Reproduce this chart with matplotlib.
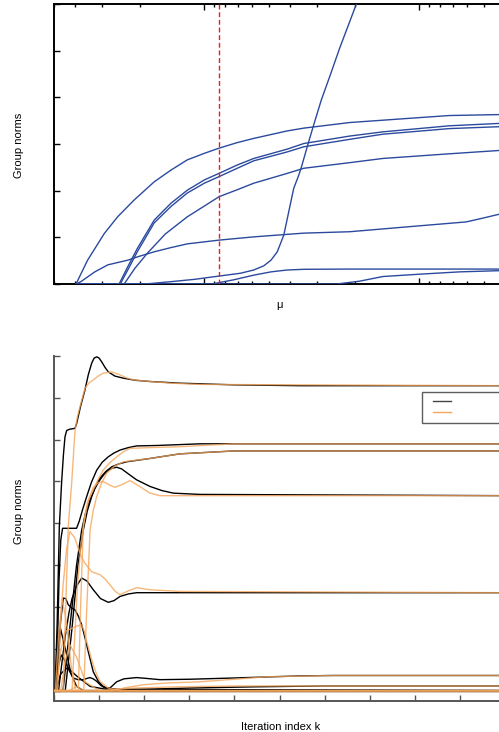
import matplotlib
matplotlib.use('Agg')
import matplotlib.pyplot as plt
from matplotlib.lines import Line2D
from matplotlib.ticker import LogLocator, NullFormatter, MultipleLocator
from matplotlib import rcParams

rcParams['font.family'] = ['Liberation Sans', 'DejaVu Sans']

# ---------------- top panel: regularisation path (group norms vs mu) -------------
mu_lambda = 8.55  # selected value (dashed red line)

path_a_mu = [39.5, 34.9, 29.2, 25.3, 21.2, 17.1, 14.3, 12.0, 10.0, 8.55, 7.03, 5.89, 4.12, 3.45, 2.11, 1.48, 1.04, 0.726, 0.43, 0.38]
path_a_v = [0, 0.51, 1.08, 1.44, 1.80, 2.19, 2.44, 2.66, 2.80, 2.91, 3.03, 3.12, 3.28, 3.34, 3.46, 3.51, 3.56, 3.61, 3.63, 3.64]
path_b_mu = [39.5, 24.9, 22.7, 20.5, 17.1, 14.3, 12.0, 10.0, 8.55, 7.03, 5.89, 4.12, 3.45, 2.11, 1.48, 0.726, 0.43, 0.38]
path_b_v = [0, 0, 0.37, 0.76, 1.37, 1.73, 2.01, 2.23, 2.37, 2.55, 2.69, 2.89, 3.01, 3.17, 3.26, 3.39, 3.44, 3.45]
path_c_mu = [39.5, 24.6, 22.7, 20.5, 17.1, 14.3, 12.0, 10.0, 8.55, 7.03, 5.89, 4.12, 3.45, 2.11, 1.48, 0.726, 0.43, 0.38]
path_c_v = [0, 0, 0.30, 0.69, 1.31, 1.66, 1.95, 2.16, 2.30, 2.48, 2.64, 2.83, 2.94, 3.10, 3.21, 3.33, 3.37, 3.38]
path_d_mu = [39.5, 23.6, 21.0, 18.4, 15.2, 12.0, 10.0, 8.55, 7.03, 5.89, 4.12, 3.45, 2.11, 1.48, 0.726, 0.43, 0.38]
path_d_v = [0, 0, 0.34, 0.66, 1.07, 1.44, 1.67, 1.87, 2.02, 2.16, 2.37, 2.48, 2.60, 2.69, 2.79, 2.86, 2.87]
path_e_mu = [39.5, 37.5, 32.3, 28.1, 25.3, 22.7, 20.5, 17.1, 14.3, 12.0, 8.55, 5.89, 3.45, 2.11, 1.04, 0.726, 0.607, 0.509, 0.43, 0.38]
path_e_v = [0, 0.05, 0.26, 0.41, 0.46, 0.51, 0.58, 0.69, 0.78, 0.86, 0.94, 1.01, 1.09, 1.12, 1.24, 1.30, 1.33, 1.41, 1.49, 1.55]
path_f_mu = [39.5, 18.8, 14.3, 11.1, 8.55, 6.8, 5.89, 5.29, 4.9, 4.58, 4.27, 4.05, 3.84, 3.64, 3.54, 3.29, 3.12, 2.86, 2.61, 2.35, 1.96, 1.48]
path_f_v = [0, 0, 0.05, 0.10, 0.17, 0.23, 0.30, 0.39, 0.51, 0.69, 1.05, 1.55, 2.05, 2.33, 2.50, 3.01, 3.37, 3.94, 4.45, 5.05, 6.01, 7.2]
path_g_mu = [39.5, 9.21, 7.3, 5.89, 4.9, 4.12, 3.45, 2.11, 0.43, 0.38]
path_g_v = [0, 0, 0.09, 0.19, 0.26, 0.30, 0.315, 0.32, 0.32, 0.32]
path_h_mu = [39.5, 2.43, 1.9, 1.48, 1.0, 0.65, 0.43, 0.38]
path_h_v = [0, 0, 0.06, 0.16, 0.21, 0.26, 0.285, 0.29]

paths = [(path_a_mu, path_a_v), (path_b_mu, path_b_v), (path_c_mu, path_c_v),
         (path_d_mu, path_d_v), (path_e_mu, path_e_v), (path_f_mu, path_f_v),
         (path_g_mu, path_g_v), (path_h_mu, path_h_v)]

# ---------------- bottom panel: group norms vs iteration index k -----------------
# black = plain iterations, orange = accelerated iterations
blk_1_k = [0, 0.22, 0.7, 1.18, 1.7, 2.1, 2.44, 2.82, 3.5, 4.66, 5.03, 5.9, 6.87, 7.6, 8.36, 8.9, 9.47, 10.0, 10.58, 11.3, 12.04, 13.5, 15.37, 18, 21.29, 27.94, 40, 54.5, 100]
blk_1_v = [0, 0, 1.6, 3.92, 5.0, 5.65, 6.07, 6.22, 6.25, 6.27, 6.39, 6.8, 7.19, 7.55, 7.83, 7.95, 7.98, 7.95, 7.86, 7.73, 7.62, 7.52, 7.47, 7.42, 7.39, 7.35, 7.31, 7.29, 7.29]
blk_2_k = [0, 0.5, 0.8, 1.1, 1.5, 1.9, 5.0, 5.6, 6.4, 7.25, 8.3, 9.47, 10.7, 12.04, 13.3, 14.63, 16.5, 18.34, 22.77, 32.4, 100]
blk_2_v = [0, 0, 1.2, 2.6, 3.6, 3.88, 3.88, 4.05, 4.35, 4.64, 4.98, 5.27, 5.46, 5.59, 5.68, 5.75, 5.81, 5.85, 5.86, 5.90, 5.90]
blk_3_k = [0, 2.5, 3.3, 4.0, 4.7, 5.3, 6.5, 7.4, 8.36, 9.3, 10.2, 11.5, 12.8, 14.4, 16.1, 21.3, 27.9, 40, 100]
blk_3_v = [0, 0, 0.8, 1.5, 2.3, 3.0, 3.84, 4.3, 4.64, 4.9, 5.08, 5.24, 5.35, 5.42, 5.47, 5.55, 5.66, 5.73, 5.73]
blk_4_k = [0, 2.0, 2.8, 3.6, 4.3, 5.0, 6.14, 7.0, 7.98, 9.0, 10.2, 11.1, 12.04, 13.0, 13.9, 15.0, 16.5, 18.3, 21.3, 24, 26.5, 32.4, 100]
blk_4_v = [0, 0, 0.8, 1.6, 2.3, 3.0, 3.84, 4.25, 4.56, 4.82, 5.04, 5.17, 5.27, 5.32, 5.34, 5.30, 5.18, 5.04, 4.88, 4.78, 4.72, 4.69, 4.66]
blk_5_k = [0, 1.0, 1.8, 2.5, 3.3, 4.0, 5.0, 6.14, 7.3, 8.71, 10.3, 12.04, 13.3, 14.63, 16.5, 18.34, 100]
blk_5_v = [0, 0, 0.7, 1.3, 1.85, 2.2, 2.5, 2.69, 2.62, 2.41, 2.2, 2.11, 2.15, 2.25, 2.31, 2.34, 2.34]
blk_6_k = [0, 0.4, 1.0, 1.6, 2.2, 2.82, 3.5, 4.28, 5.3, 6.5, 7.3, 7.98, 8.7, 9.47, 10.4, 11.3, 12.4, 13.1, 13.9, 15.5, 18.3, 20.5, 23.5, 30, 39.8, 54.5, 61.9, 100]
blk_6_v = [0, 0, 0.6, 0.85, 0.75, 0.61, 0.45, 0.30, 0.26, 0.26, 0.29, 0.31, 0.28, 0.22, 0.12, 0.06, 0.06, 0.13, 0.21, 0.28, 0.31, 0.29, 0.26, 0.27, 0.30, 0.35, 0.36, 0.36]
blk_7_k = [0, 0.5, 1.5, 3.0, 5.0, 8.0, 12, 20, 30, 45, 60, 100]
blk_7_v = [0, 0, 0.4, 0.55, 0.35, 0.1, 0.02, 0.03, 0.06, 0.09, 0.11, 0.11]
blk_8_k = [0, 0.3, 1.2, 2.06, 2.6, 3.17, 4.0, 4.66, 5.4, 6.14, 6.9, 7.6, 8.7, 9.84, 10.8, 11.7, 13.9, 100]
blk_8_v = [0, 0, 1.4, 2.21, 2.2, 2.05, 1.97, 1.93, 1.78, 1.57, 1.25, 0.93, 0.45, 0.22, 0.11, 0.06, 0.03, 0]
blk_9_k = [0, 0.6, 1.4, 2.5, 3.8, 5.0, 6.5, 100]
blk_9_v = [0, 0, 1.5, 1.0, 0.4, 0.1, 0, 0]
blk_0_k = [0, 100]
blk_0_v = [0, 0]

org_1_k = [0, 2.06, 2.6, 3.17, 3.92, 4.66, 5.2, 5.76, 6.87, 7.8, 8.71, 9.8, 10.93, 12.79, 14.63, 16, 17.58, 21.29, 26, 32.4, 100]
org_1_v = [0, 0, 2.0, 3.92, 4.96, 6.22, 6.55, 6.79, 7.23, 7.36, 7.43, 7.52, 7.59, 7.62, 7.55, 7.48, 7.43, 7.39, 7.35, 7.32, 7.29]
org_2_k = [0, 5.4, 5.9, 6.5, 7.4, 8.71, 9.8, 10.9, 12.4, 13.9, 15.4, 16.85, 21.3, 27.9, 40, 100]
org_2_v = [0, 0, 2.0, 3.94, 4.5, 4.80, 5.05, 5.27, 5.45, 5.59, 5.71, 5.79, 5.81, 5.83, 5.90, 5.90]
org_3_k = [0, 6.6, 7.2, 8.0, 8.7, 9.47, 10.5, 11.7, 13.5, 15.4, 21.3, 27.9, 40, 100]
org_3_v = [0, 0, 1.8, 3.84, 4.3, 4.64, 4.95, 5.2, 5.37, 5.47, 5.55, 5.66, 5.73, 5.73]
org_4_k = [0, 4.0, 4.6, 5.2, 6.0, 6.9, 7.8, 8.7, 9.8, 10.9, 12.2, 13.5, 15.2, 16.85, 19, 21.3, 23.5, 100]
org_4_v = [0, 0, 1.3, 2.5, 3.5, 4.2, 4.6, 4.85, 4.97, 5.0, 4.92, 4.86, 4.93, 5.02, 4.88, 4.72, 4.66, 4.66]
org_5_k = [0, 0.8, 1.4, 2.0, 2.8, 3.55, 4.6, 5.7, 6.8, 8.36, 10.2, 11.3, 12.4, 13.5, 14.6, 16.4, 18.3, 21.3, 27.9, 100]
org_5_v = [0, 0, 1.5, 2.5, 3.4, 3.80, 3.65, 3.3, 3.05, 2.84, 2.77, 2.67, 2.53, 2.38, 2.29, 2.38, 2.46, 2.41, 2.37, 2.34]
org_6_k = [0, 3.5, 5.0, 6.5, 12.9, 16, 19.8, 25, 32.4, 40, 47.2, 61.9, 100]
org_6_v = [0, 0, 0.1, 0, 0, 0.07, 0.14, 0.18, 0.21, 0.27, 0.33, 0.36, 0.36]
org_7_k = [0, 1.5, 2.5, 3.5, 5.0, 7.0, 10, 17.5, 28, 39.7, 100]
org_7_v = [0, 0, 0.7, 1.1, 0.8, 0.2, 0, 0.06, 0.09, 0.11, 0.11]
org_8_k = [0, 0.5, 1.4, 2.44, 4.2, 5.3, 6.14, 6.7, 7.25, 8.0, 8.7, 9.5, 10.2, 12.0, 14.6, 100]
org_8_v = [0, 0, 0.9, 1.41, 1.5, 1.55, 1.57, 1.42, 1.17, 0.88, 0.61, 0.38, 0.22, 0.06, 0, 0]
org_9_k = [0, 0.3, 1.0, 1.8, 2.8, 3.8, 4.8, 100]
org_9_v = [0, 0, 1.3, 2.2, 1.6, 0.6, 0, 0]
org_0_k = [0, 100]
org_0_v = [0, 0]

black_runs = [(blk_1_k, blk_1_v), (blk_2_k, blk_2_v), (blk_3_k, blk_3_v), (blk_4_k, blk_4_v),
              (blk_5_k, blk_5_v), (blk_6_k, blk_6_v), (blk_7_k, blk_7_v), (blk_8_k, blk_8_v),
              (blk_9_k, blk_9_v), (blk_0_k, blk_0_v)]
orange_runs = [(org_1_k, org_1_v), (org_2_k, org_2_v), (org_3_k, org_3_v), (org_4_k, org_4_v),
               (org_5_k, org_5_v), (org_6_k, org_6_v), (org_7_k, org_7_v), (org_8_k, org_8_v),
               (org_9_k, org_9_v), (org_0_k, org_0_v)]

BLUE = '#2b4a9e'
ORANGE = '#f5a55a'
GRAY = '#555555'

W, H = 499, 732
fig = plt.figure(figsize=(W / 100, H / 100), dpi=100)

# axes extend past the right edge of the figure (cropped like the reference)
ax1 = fig.add_axes([54 / W, 1 - 284 / H, 451 / W, 280 / H])
ax2 = fig.add_axes([54 / W, 1 - 701 / H, 451 / W, 345 / H])

# --- top
for mu, v in paths:
    ax1.plot(mu, v, color=BLUE, lw=1.0, zorder=3)
ax1.axvline(mu_lambda, color='#e8201c', lw=1.0, ls=(0, (3.5, 2)), zorder=4)
ax1.set_xscale('log')
ax1.set_xlim(50, 0.4)
ax1.set_ylim(0, 6)
ax1.xaxis.set_major_locator(LogLocator(base=10))
ax1.xaxis.set_minor_locator(LogLocator(base=10, subs=range(2, 10)))
ax1.xaxis.set_minor_formatter(NullFormatter())
ax1.yaxis.set_major_locator(MultipleLocator(1))
ax1.tick_params(which='both', direction='in', top=True, right=False,
                labelbottom=False, labelleft=False, width=1.0)
ax1.tick_params(which='major', length=4)
ax1.tick_params(which='minor', length=2.2)
for s in ax1.spines.values():
    s.set_linewidth(1.4)
    s.set_color('black')
ax1.set_ylabel('Group norms', fontsize=8)
ax1.yaxis.set_label_coords(-0.066, 0.496)
ax1.set_xlabel('\u03bc', fontsize=8)
ax1.xaxis.set_label_coords(0.501, -0.058)

# --- bottom
for k, v in black_runs:
    ax2.plot(k, v, color='black', lw=1.0, zorder=3)
for k, v in orange_runs:
    ax2.plot(k, v, color=ORANGE, lw=1.0, alpha=0.8, zorder=4)
ax2.set_xlim(0, 100)
ax2.set_ylim(-0.25, 8)
ax2.xaxis.set_major_locator(MultipleLocator(10))
ax2.yaxis.set_major_locator(MultipleLocator(1))
ax2.tick_params(direction='in', length=4.5, width=1.0, color=GRAY,
                labelbottom=False, labelleft=False, top=False, right=False)
ax2.spines['top'].set_visible(False)
ax2.spines['right'].set_visible(False)
for side in ('left', 'bottom'):
    ax2.spines[side].set_linewidth(1.4)
    ax2.spines[side].set_color(GRAY)
ax2.set_ylabel('Group norms', fontsize=8)
ax2.yaxis.set_label_coords(-0.066, 0.549)
ax2.set_xlabel('Iteration index k', fontsize=8)
ax2.xaxis.set_label_coords(0.502, -0.062)

handles = [Line2D([], [], color='#444444', lw=1.0), Line2D([], [], color=ORANGE, lw=1.0)]
leg = ax2.legend(handles, ['', ''], loc='upper left', mode='expand', markerfirst=False,
                 bbox_to_anchor=(0.815, 0.0, 0.35, 0.895), borderaxespad=0,
                 fontsize=8, handlelength=1.65, handletextpad=0.57, borderpad=0.42,
                 labelspacing=0.1, fancybox=False, frameon=True)
leg.get_frame().set_edgecolor('#333333')
leg.get_frame().set_linewidth(1.0)

fig.savefig('out.png', dpi=100)
